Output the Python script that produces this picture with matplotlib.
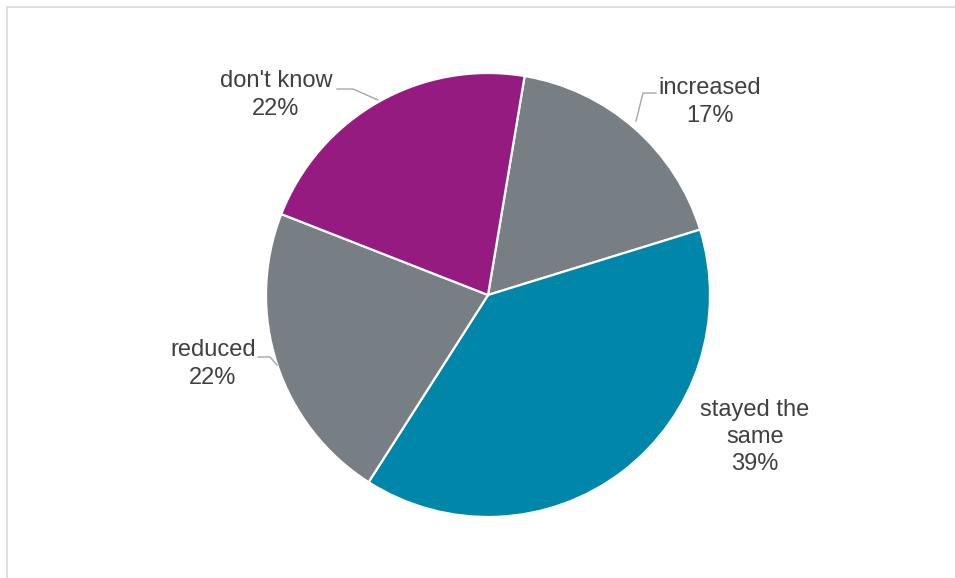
import matplotlib
matplotlib.use("Agg")
import matplotlib.pyplot as plt

categories = ["increased", "stayed the\nsame", "reduced", "don't know"]
values = [17.6, 38.8, 21.9, 21.7]
pct_labels = ["17%", "39%", "22%", "22%"]
colors = ["#787F84", "#0086A8", "#787F84", "#951B81"]

W, H = 955, 578
fig = plt.figure(figsize=(W / 100, H / 100), dpi=100)
ax = fig.add_axes([0, 0, 1, 1])
ax.set_xlim(0, W)
ax.set_ylim(0, H)
ax.set_aspect("equal")
ax.axis("off")

cx, cy, r = 488, H - 295, 222
ax.pie(values, colors=colors, startangle=80.5, counterclock=False,
       center=(cx, cy), radius=r, frame=True,
       wedgeprops=dict(edgecolor="white", linewidth=1.6))
ax.set_xlim(0, W)
ax.set_ylim(0, H)
ax.axis("off")

# chart area border (top and left visible)
ax.plot([7, W], [H - 7, H - 7], color="#D9D9D9", lw=1.2, solid_capstyle="butt")
ax.plot([7, 7], [H - 7, 0], color="#D9D9D9", lw=1.2, solid_capstyle="butt")

label_pos = [(710, 102), (755, 437), (213, 364), (276, 95)]
for cat, pct, (x, y) in zip(categories, pct_labels, label_pos):
    ax.text(x, H - y, f"{cat}\n{pct}", ha="center", va="center",
            fontsize=17, color="#404040", family=["Liberation Sans", "DejaVu Sans"],
            linespacing=1.3)

# leader lines
lc = "#A6A6A6"
ax.plot([337, 353, 378], [H - 89, H - 89, H - 100], color=lc, lw=1.0)
ax.plot([656, 643, 636], [H - 93, H - 93, H - 121], color=lc, lw=1.0)
ax.plot([258, 270, 277], [H - 357, H - 357, H - 365], color=lc, lw=1.0)

fig.savefig("out.png", dpi=100, facecolor="white")
